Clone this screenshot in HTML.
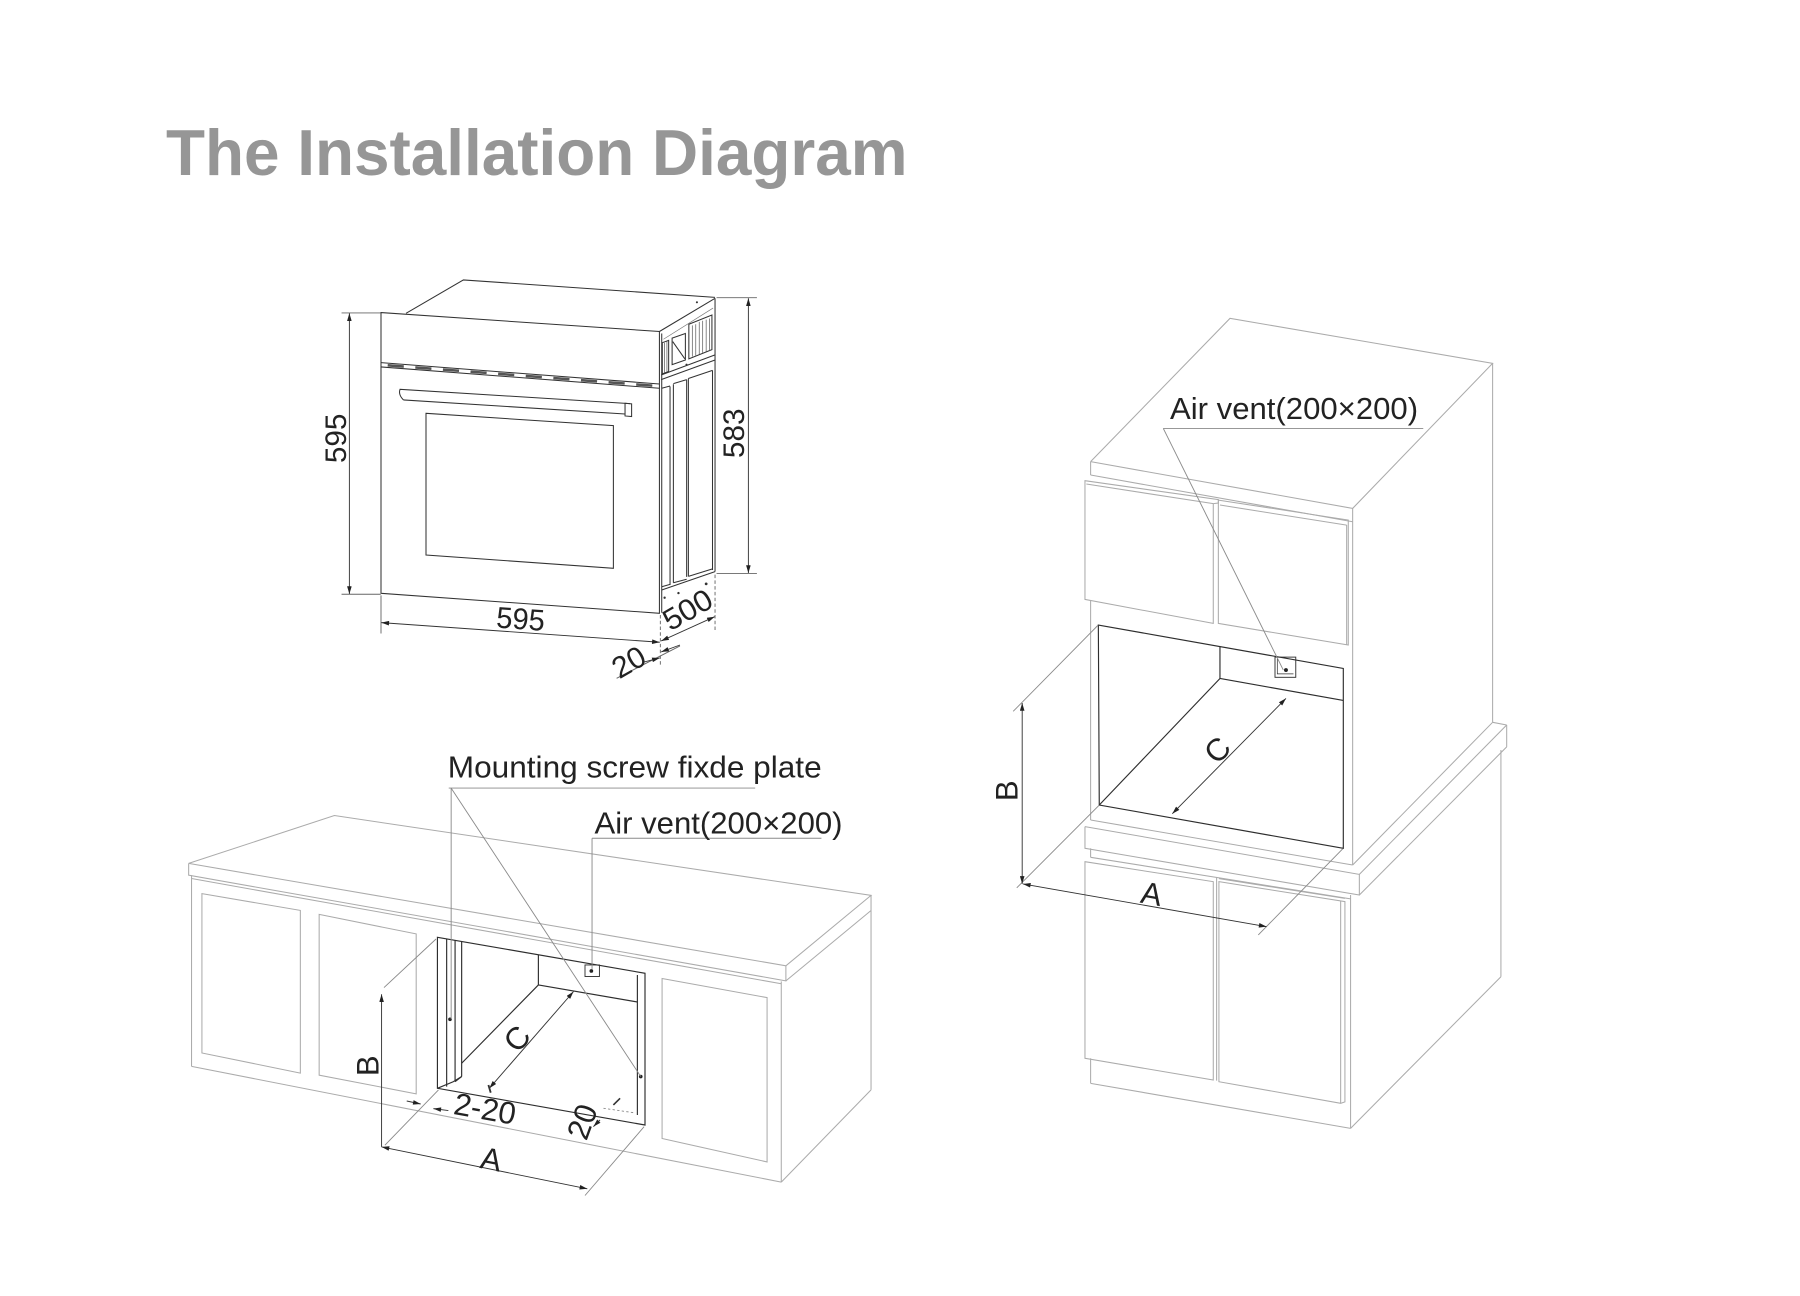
<!DOCTYPE html>
<html><head><meta charset="utf-8"><style>
html,body{margin:0;padding:0;background:#fff;}
svg{display:block;}
text{font-family:"Liberation Sans",Arial,sans-serif;}
</style></head><body>
<svg width="1800" height="1296" viewBox="0 0 1560 1123.2" xmlns="http://www.w3.org/2000/svg">
<defs>
<marker id="ar" viewBox="0 0 10 6" refX="10" refY="3" markerWidth="9" markerHeight="4" orient="auto-start-reverse" markerUnits="userSpaceOnUse"><path d="M0,0 L10,3 L0,6 z" fill="#222"/></marker>
</defs>
<rect width="1560" height="1123.2" fill="#fff"/>

<!-- Title -->
<text x="143.9" y="151.7" font-size="56.3" font-weight="bold" fill="#969696" textLength="642.6" lengthAdjust="spacingAndGlyphs">The Installation Diagram</text>

<!-- ================= OVEN ================= -->
<g fill="none" stroke="#333" stroke-width="0.9">
  <polyline points="351.9,271.5 401.6,242.6 619.7,257.7"/>
  <polygon points="330.2,270.9 571.5,287.3 571.5,531.5 330.2,514.2"/>
  <line x1="571.5" y1="287.3" x2="619.7" y2="258.5"/>
  <line x1="619.7" y1="258.5" x2="619.7" y2="495.4"/>
  <line x1="573.5" y1="511.3" x2="619.7" y2="495.4"/>
  <line x1="573.5" y1="289" x2="573.5" y2="531"/>
  <line x1="575" y1="294" x2="618" y2="267" stroke="#777" stroke-width="0.6"/>
  <!-- control strip -->
  <line x1="330.2" y1="314.3" x2="571.5" y2="332.8"/>
  <line x1="330.2" y1="318" x2="571.5" y2="336.5"/>
  <line x1="336" y1="316.6" x2="566" y2="334.3" stroke="#555" stroke-width="2.2" stroke-dasharray="14 10"/>
  <!-- handle -->
  <path d="M349.6,346.6 Q345,342 346.7,337.4 L546,349.8"/>
  <line x1="349.6" y1="346.6" x2="541.7" y2="358.8"/>
  <polygon points="541.7,349.5 547.4,350 547.4,361 541.7,360.5"/>
  <!-- window -->
  <polygon points="369.2,358.2 531.6,368.9 531.6,492.5 369.2,481"/>
  <!-- side grooves -->
  <line x1="580.7" y1="335" x2="580.7" y2="507"/>
  <line x1="583.6" y1="333" x2="583.6" y2="505"/>
  <line x1="595.1" y1="329" x2="595.1" y2="500"/>
  <line x1="596.6" y1="328" x2="596.6" y2="499.5"/>
  <line x1="617.5" y1="321" x2="617.5" y2="494"/>
  <line x1="573.5" y1="336.5" x2="580.7" y2="334.5"/>
  <line x1="583.6" y1="332.5" x2="595.1" y2="329"/>
  <line x1="596.6" y1="328" x2="617.5" y2="321"/>
  <line x1="573.5" y1="508.5" x2="580.7" y2="506.5"/>
  <line x1="583.6" y1="505" x2="595.1" y2="502"/>
  <line x1="596.6" y1="499.5" x2="617.5" y2="493"/>
  <line x1="573" y1="325" x2="619.7" y2="307.6"/>
  <line x1="573" y1="329" x2="619.7" y2="312"/>
  <!-- upper vents -->
  <polygon points="597,281 617,273 617,303 597,311"/>
  <polygon points="582.5,293 594,289 594,312 582.5,316"/>
  <line x1="583" y1="296" x2="593.5" y2="311"/>
  <polygon points="574,297 579.5,295 579.5,322 574,324"/>
</g>
<g stroke="#555" stroke-width="0.6">
  <line x1="600" y1="282" x2="600" y2="309"/><line x1="603" y1="281" x2="603" y2="308"/>
  <line x1="606" y1="279" x2="606" y2="307"/><line x1="609" y1="278" x2="609" y2="306"/>
  <line x1="612" y1="277" x2="612" y2="305"/><line x1="615" y1="276" x2="615" y2="304"/>
  <line x1="576" y1="297" x2="576" y2="323"/><line x1="578" y1="296" x2="578" y2="322"/>
</g>
<g fill="#333">
  <circle cx="576" cy="518" r="1"/><circle cx="588" cy="514" r="1"/><circle cx="612" cy="506" r="1.2"/>
  <circle cx="604" cy="262" r="0.9"/><circle cx="595" cy="316" r="0.9"/>
</g>

<!-- oven dimensions -->
<g stroke="#666" stroke-width="0.8" fill="none">
  <line x1="296" y1="271.2" x2="330" y2="271.2"/>
  <line x1="296" y1="515" x2="330" y2="515"/>
  <line x1="621" y1="258" x2="656" y2="258"/>
  <line x1="621" y1="497" x2="656" y2="497"/>
  <line x1="330.2" y1="516" x2="330.2" y2="549"/>
  <line x1="572.3" y1="533" x2="572.3" y2="576" stroke-dasharray="3 2"/>
  <line x1="619.7" y1="498" x2="619.7" y2="548" stroke-dasharray="3 2"/>
  <line x1="534.4" y1="587.9" x2="589.3" y2="559.8"/>
</g>
<g stroke="#333" stroke-width="0.8" fill="none">
  <line x1="302.8" y1="271.5" x2="302.8" y2="514.8" marker-start="url(#ar)" marker-end="url(#ar)"/>
  <line x1="648.6" y1="258.5" x2="648.6" y2="496.6" marker-start="url(#ar)" marker-end="url(#ar)"/>
  <line x1="330.5" y1="539.6" x2="571.8" y2="556.6" marker-start="url(#ar)" marker-end="url(#ar)"/>
  <line x1="573" y1="555.5" x2="619.4" y2="534.5" marker-start="url(#ar)" marker-end="url(#ar)"/>
  <line x1="558" y1="573.8" x2="571.8" y2="570.2" marker-end="url(#ar)"/>
  <line x1="573" y1="565" x2="589.3" y2="559" marker-start="url(#ar)"/>
</g>
<g font-size="26" fill="#222" text-anchor="middle">
  <text transform="translate(290.3,379.9) rotate(-90)" y="9.4" textLength="43" lengthAdjust="spacingAndGlyphs">595</text>
  <text transform="translate(635.6,375.5) rotate(-90)" y="9.4" textLength="43" lengthAdjust="spacingAndGlyphs">583</text>
  <text transform="translate(451.2,535.9) rotate(3.9)" y="9.4" textLength="42" lengthAdjust="spacingAndGlyphs">595</text>
  <text transform="translate(595.7,528) rotate(-30)" y="9.4" textLength="45" lengthAdjust="spacingAndGlyphs">500</text>
  <text transform="translate(544.6,573.4) rotate(-30)" y="9.4" textLength="29" lengthAdjust="spacingAndGlyphs">20</text>
</g>

<!-- ================= BOTTOM-LEFT CABINET ================= -->
<g fill="none" stroke="#ababab" stroke-width="0.9">
  <polyline points="163.5,748.3 289.8,706.8 754.9,776 681.1,837 163.5,748.3"/>
  <polyline points="163.5,748.3 163.5,758.5 681.1,850.1 681.1,837"/>
  <line x1="681.1" y1="850.1" x2="754.9" y2="789.1"/>
  <line x1="754.9" y1="776" x2="754.9" y2="944.6"/>
  <line x1="166" y1="761.4" x2="677.1" y2="852.6"/>
  <line x1="166" y1="758.5" x2="166" y2="924.2"/>
  <line x1="166" y1="924.2" x2="677.1" y2="1024.5"/>
  <line x1="677.1" y1="850.5" x2="677.1" y2="1024.5"/>
  <line x1="677.1" y1="1024.5" x2="754.9" y2="944.6"/>
  <polygon points="175,774.5 260.3,789 260.3,930 175,912.6"/>
  <polygon points="276.6,792.5 360.7,809.4 360.7,948 276.6,931.8"/>
  <polygon points="573.8,848 664.8,864.6 664.8,1007 573.8,986.7"/>
</g>
<!-- cutout -->
<g fill="none" stroke="#2e2e2e" stroke-width="1">
  <polygon points="379.1,812.3 559,843.5 559,975 379.1,943.2" fill="#fff"/>
  <line x1="387.1" y1="813.7" x2="387.1" y2="941.7"/>
  <line x1="394.4" y1="815" x2="394.4" y2="937.4"/>
  <line x1="400.1" y1="816" x2="400.1" y2="933"/>
  <polyline points="379.1,943.2 393,937.4 400.1,933"/>
  <line x1="394.4" y1="937.4" x2="400.1" y2="933"/>
  <line x1="466.6" y1="827.5" x2="466.6" y2="853.6"/>
  <line x1="466.6" y1="853.6" x2="552.4" y2="868.4"/>
  <line x1="466.6" y1="853.6" x2="400.1" y2="921.5"/>
  <line x1="552.4" y1="845" x2="552.4" y2="966.3"/>
  <rect x="507" y="836.3" width="12.5" height="10" stroke-width="0.8"/>
</g>
<g fill="#222">
  <circle cx="512.5" cy="841.5" r="1.6"/>
  <circle cx="390" cy="883.4" r="1.6"/>
  <circle cx="555.3" cy="933" r="1.6"/>
</g>
<!-- leaders bottom-left -->
<g stroke="#8a8a8a" stroke-width="0.8" fill="none">
  <line x1="388.9" y1="683" x2="654.5" y2="683"/>
  <line x1="391" y1="683" x2="391" y2="883.4"/>
  <line x1="391" y1="683" x2="555.3" y2="933"/>
  <line x1="513.1" y1="726.5" x2="711.9" y2="726.5"/>
  <line x1="513.1" y1="726.5" x2="513.1" y2="840"/>
  <line x1="332.8" y1="855.9" x2="377.9" y2="813.8"/>
  <line x1="333.6" y1="992.5" x2="380" y2="944.6"/>
  <line x1="507" y1="1036.1" x2="558.2" y2="976.5"/>
  <line x1="523" y1="960.5" x2="549" y2="964.3" stroke-dasharray="2 2"/>
</g>
<g stroke="#333" stroke-width="0.8" fill="none">
  <line x1="330.7" y1="861.7" x2="330.7" y2="994" marker-start="url(#ar)"/>
  <line x1="330.7" y1="994" x2="509" y2="1030.3" marker-start="url(#ar)" marker-end="url(#ar)"/>
  <line x1="424.1" y1="943.2" x2="497" y2="859.4" marker-start="url(#ar)" marker-end="url(#ar)"/>
  <line x1="352.5" y1="954.2" x2="364.6" y2="956.8" marker-end="url(#ar)"/>
  <line x1="375.6" y1="960.8" x2="388.6" y2="962.5" marker-start="url(#ar)"/>
  <line x1="423.3" y1="940.3" x2="425.3" y2="947" stroke-width="1.6"/>
  <line x1="514.3" y1="976.4" x2="520" y2="970.6" marker-start="url(#ar)"/>
  <line x1="531.6" y1="957.6" x2="537.4" y2="951.9" stroke-width="1.4"/>
</g>
<g fill="#222">
  <text x="388.1" y="674" font-size="26.5" textLength="324" lengthAdjust="spacingAndGlyphs">Mounting screw fixde plate</text>
  <text x="515.2" y="722.5" font-size="26.5" textLength="215" lengthAdjust="spacingAndGlyphs">Air vent(200×200)</text>
</g>
<g font-size="27" fill="#222" text-anchor="middle">
  <text transform="translate(318.4,923.6) rotate(-90)" y="9.7">B</text>
  <text transform="translate(447.8,899.9) rotate(-49)" y="9.7">C</text>
  <text transform="translate(420.4,960.5) rotate(10)" y="9.7">2-20</text>
  <text transform="translate(504.2,972) rotate(-70)" y="9.7">20</text>
  <text transform="translate(425.8,1004.2) rotate(11)" y="9.7">A</text>
</g>

<!-- ================= RIGHT CABINET ================= -->
<g fill="none" stroke="#ababab" stroke-width="0.9">
  <!-- upper box -->
  <polyline points="945.2,400.1 1066,275.9 1293.6,314.9 1172.3,440.6 945.2,400.1"/>
  <line x1="945.2" y1="411.7" x2="1172.3" y2="452.2"/>
  <line x1="945.2" y1="400.1" x2="945.2" y2="411.7"/>
  <line x1="1293.6" y1="314.9" x2="1293.6" y2="626"/>
  <line x1="1172.3" y1="440.6" x2="1172.3" y2="749.7"/>
  <line x1="1172.3" y1="749.7" x2="1293.6" y2="626"/>
  <line x1="945.2" y1="520" x2="945.2" y2="710.7"/>
  <!-- upper drawers -->
  <polygon points="940.3,416.6 1055.9,433 1055.9,436 1051.5,436.5 1051.5,540.3 940.3,519.5"/>
  <line x1="941.5" y1="419.5" x2="1051.5" y2="436.5"/>
  <polygon points="1055.9,433.4 1168.5,450.7 1168.5,559 1055.9,540.3"/>
  <line x1="1057.3" y1="437.7" x2="1167.1" y2="455.1"/>
  <line x1="1167.1" y1="455" x2="1167.1" y2="558.7"/>
  <!-- ledge / counter -->
  <line x1="945.2" y1="710.7" x2="1172.3" y2="749.7"/>
  <polyline points="940.3,716.4 1178.1,757.8 1178.1,775.7 940.3,735.2 940.3,716.4"/>
  <line x1="1178.1" y1="757.8" x2="1305.8" y2="628.3"/>
  <line x1="1178.1" y1="775.7" x2="1305.8" y2="647.3"/>
  <line x1="1305.8" y1="628.3" x2="1305.8" y2="647.3"/>
  <line x1="1293.6" y1="626" x2="1305.8" y2="628.3"/>
  <line x1="945.2" y1="735.2" x2="945.2" y2="743"/>
  <line x1="945.2" y1="743" x2="1170.5" y2="779"/>
  <!-- lower body -->
  <line x1="1300.8" y1="650" x2="1300.8" y2="846.5"/>
  <line x1="1170.5" y1="775.7" x2="1170.5" y2="977.9"/>
  <line x1="1170.5" y1="977.9" x2="1300.8" y2="846.5"/>
  <line x1="945.2" y1="917.2" x2="945.2" y2="938.9"/>
  <line x1="945.2" y1="938.9" x2="1170.5" y2="977.9"/>
  <!-- lower doors -->
  <polygon points="940.3,746.8 1051.5,764.1 1051.5,936 940.3,917.2"/>
  <line x1="1054.4" y1="760.4" x2="1054.4" y2="936.5"/>
  <polygon points="1056.4,764.1 1165.6,781.4 1165.6,955 1161.9,956.2 1056.4,937.5"/>
  <line x1="1056.4" y1="761.5" x2="1165.6" y2="778.6"/>
  <line x1="1161.9" y1="781" x2="1161.9" y2="956.2"/>
</g>
<!-- right cutout -->
<g fill="none" stroke="#2e2e2e" stroke-width="1">
  <polygon points="951.9,541.7 1164.2,579.3 1164.2,735.2 952.7,697.7" fill="#fff"/>
  <line x1="1057.3" y1="560.4" x2="1057.3" y2="588"/>
  <line x1="1057.3" y1="588" x2="1164.2" y2="607"/>
  <line x1="1057.3" y1="588" x2="952.7" y2="697.7"/>
  <rect x="1105" y="569.5" width="18" height="17.5" stroke-width="0.8"/>
  <polyline points="1107,571 1107,584 1121,584" stroke-width="0.6"/>
</g>
<circle cx="1114.5" cy="580.7" r="1.7" fill="#222"/>
<g stroke="#8a8a8a" stroke-width="0.8" fill="none">
  <line x1="1008.2" y1="371.3" x2="1233.5" y2="371.3"/>
  <line x1="1008.2" y1="371.3" x2="1112.2" y2="580.7"/>
  <line x1="878.1" y1="616.5" x2="951.5" y2="542"/>
  <line x1="881.2" y1="769.4" x2="952.5" y2="697.9"/>
  <line x1="1090.5" y1="810.3" x2="1163.8" y2="735.5"/>
</g>
<g stroke="#333" stroke-width="0.8" fill="none">
  <line x1="885.9" y1="609.3" x2="885.9" y2="766" marker-start="url(#ar)" marker-end="url(#ar)"/>
  <line x1="886.5" y1="766.1" x2="1097.7" y2="803.1" marker-start="url(#ar)" marker-end="url(#ar)"/>
  <line x1="1016" y1="705.2" x2="1114.5" y2="605.3" marker-start="url(#ar)" marker-end="url(#ar)"/>
</g>
<text x="1014" y="363" font-size="26.5" fill="#222" textLength="215" lengthAdjust="spacingAndGlyphs">Air vent(200×200)</text>
<g font-size="27" fill="#222" text-anchor="middle">
  <text transform="translate(872,685.3) rotate(-90)" y="9.7">B</text>
  <text transform="translate(1054.8,649.7) rotate(-45)" y="9.7">C</text>
  <text transform="translate(998.1,774.2) rotate(10)" y="9.7">A</text>
</g>
</svg>
</body></html>
